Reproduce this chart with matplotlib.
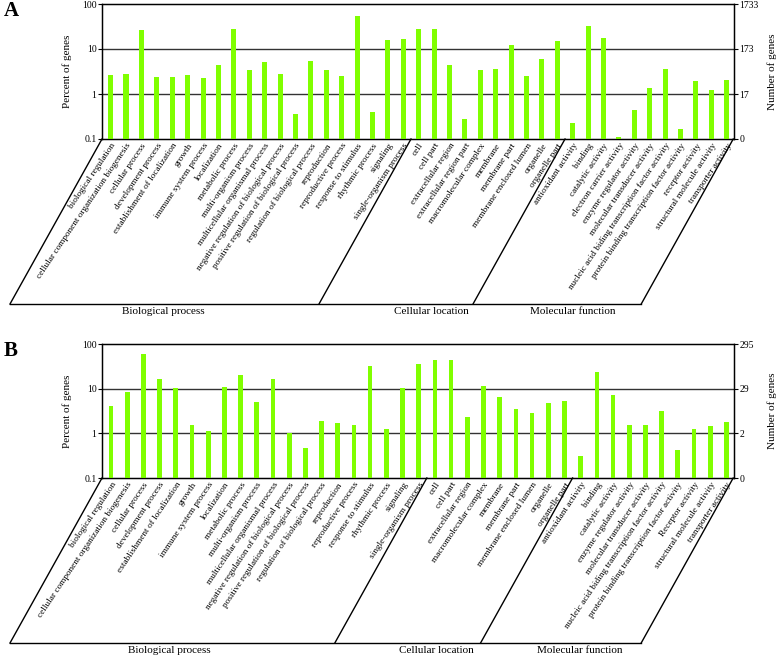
import matplotlib.pyplot as plt
import matplotlib.transforms as mtransforms
import numpy as np

plt.rcParams['font.family'] = ['Liberation Serif', 'DejaVu Serif']

# ---- data ----
bp_terms = ['biological regulation', 'cellular component organization biogenesis',
            'cellular process', 'development process', 'establishment of localization',
            'growth', 'immune system process', 'localization', 'metabolic process',
            'multi-organism process', 'multicellular organismal process',
            'negative regulation of biological process',
            'positive regulation of biological process',
            'regulation of biological process', 'reproduction', 'reproductive process',
            'response to stimulus', 'rhythmic process', 'signaling',
            'single-organism process']

cl_terms_a = ['cell', 'cell part', 'extracellular region', 'extracellular region part',
              'macromolecular complex', 'membrane', 'membrane part',
              'membrane enclosed lumen', 'organelle', 'organelle part']
mf_terms_a = ['antioxidant activity', 'binding', 'catalytic activity',
              'electron carrier activity', 'enzyme regulator activity',
              'molecular transducer activity',
              'nucleic acid biding transcription factor activity',
              'protein binding transcription factor activity', 'receptor activity',
              'structural molecule activity', 'transporter activity']

cl_terms_b = ['cell', 'cell part', 'extracellular region', 'macromolecular complex',
              'membrane', 'membrane part', 'membrane enclosed lumen', 'organelle',
              'organelle part']
mf_terms_b = ['antioxidant activity', 'binding', 'catalytic activity',
              'enzyme regulator activity', 'molecular transducer activity',
              'nucleic acid biding transcription factor activity',
              'protein binding transcription factor activity', 'Receptor activity',
              'structural molecule activity', 'transporter activity']

# percent of genes
bp_a = [2.65, 2.8, 26.8, 2.35, 2.35, 2.65, 2.3, 4.36, 27.7, 3.37,
        5.17, 2.8, 0.36, 5.5, 3.37, 2.56, 55.0, 0.40, 15.5, 16.9]
cl_a = [27.2, 27.2, 4.36, 0.277, 3.37, 3.6, 12.0, 2.48, 6.0, 14.7]
mf_a = [0.222, 31.8, 17.7, 0.112, 0.447, 1.36, 3.55, 0.169, 1.92, 1.21, 2.05]

bp_b = [4.16, 8.4, 59.7, 16.4, 10.3, 1.56, 1.13, 10.7, 20.6, 5.1,
        16.7, 1.03, 0.48, 1.86, 1.73, 1.54, 31.6, 1.25, 10.3, 35.7]
cl_b = [43.9, 43.9, 2.32, 11.7, 6.5, 3.45, 2.9, 4.78, 5.2]
mf_b = [0.31, 24.0, 7.3, 1.56, 1.56, 3.16, 0.42, 1.23, 1.46, 1.79]

pct_ticks = [0.1, 1, 10, 100]
pct_labels = ['0.1', '1', '10', '100']
count_labels_a = ['0', '17', '173', '1733']
count_labels_b = ['0', '2', '29', '295']

group_names = ['Biological process', 'Cellular location', 'Molecular function']

bar_color = '#80ff00'

fig = plt.figure(figsize=(7.78, 6.57), dpi=100)
W, H = 778, 657


def to_fig(p):
    # display pixels -> figure fraction
    return fig.transFigure.inverted().transform(p)


def panel(top_px, bottom_px, terms_groups, values_groups, count_labels, letter,
          bar_w, label_x):
    ax = fig.add_axes([102 / W, 1 - bottom_px / H, (734 - 102) / W,
                       (bottom_px - top_px) / H])
    terms = sum(terms_groups, [])
    vals = sum(values_groups, [])
    x = np.arange(len(terms))
    ax.bar(x, vals, width=bar_w, color=bar_color, zorder=3)
    ax.set_yscale('log')
    ax.set_ylim(0.1, 100)
    ax.set_xlim(-0.56, len(terms) - 1 + 0.47)
    ax.set_yticks(pct_ticks)
    ax.set_yticklabels(pct_labels)
    ax.minorticks_off()
    for v in [1, 10]:
        ax.axhline(v, color='#333333', lw=1.0, zorder=1)
    ax.set_xticks(x)
    ax.set_xticklabels(terms, rotation=56, ha='right', va='top',
                       rotation_mode='anchor', fontsize=6.7)
    ax.tick_params(axis='x', length=0, pad=2)
    ax.tick_params(axis='y', labelsize=7, length=3, width=0.8, pad=1)
    ax.set_ylabel('Percent of genes', fontsize=8, ha='center', va='center')
    ax.yaxis.set_label_coords(-35 / 632, 0.5)
    for s in ax.spines.values():
        s.set_linewidth(1.0)

    ax2 = ax.twinx()
    ax2.set_yscale('log')
    ax2.set_ylim(0.1, 100)
    ax2.set_yticks(pct_ticks)
    ax2.set_yticklabels(count_labels)
    ax2.minorticks_off()
    ax2.tick_params(axis='y', labelsize=7, length=3, width=0.8, pad=1)
    ax2.set_ylabel('Number of genes', fontsize=8, ha='center', va='center')
    ax2.yaxis.set_label_coords(1 + 38 / 632, 0.5)

    # group brackets
    base = ax.get_xaxis_transform()
    low = mtransforms.offset_copy(base, fig=fig, x=-0.92, y=-1.65, units='inches')
    n_groups = [len(g) for g in terms_groups]
    bounds = [-0.56] + list(np.cumsum(n_groups)[:-1] - 0.5) + [len(terms) - 1 + 0.42]
    for b in bounds:
        p0 = to_fig(base.transform((b, 0)))
        p1 = to_fig(low.transform((b, 0)))
        fig.add_artist(plt.Line2D([p0[0], p1[0]], [p0[1], p1[1]],
                                  color='black', lw=1.0))
    pl = to_fig(low.transform((bounds[0], 0)))
    pr = to_fig(low.transform((bounds[-1], 0)))
    fig.add_artist(plt.Line2D([pl[0], pr[0]], [pl[1], pr[1]], color='black', lw=1.0))
    for name, lx in zip(group_names, label_x):
        ax.text(lx, -0.02, name, transform=low, ha='center', va='top', fontsize=8)

    fig.text(4 / W, 1 - (top_px + 7) / H, letter, fontsize=15, fontweight='bold',
             ha='left', va='center')
    return ax


panel(4, 139, [bp_terms, cl_terms_a, mf_terms_a], [bp_a, cl_a, mf_a],
      count_labels_a, 'A', 0.33, [9.4, 26.8, 36.0])
panel(344, 478, [bp_terms, cl_terms_b, mf_terms_b], [bp_b, cl_b, mf_b],
      count_labels_b, 'B', 0.29, [9.3, 25.8, 34.6])

fig.savefig('out.png', dpi=100)
